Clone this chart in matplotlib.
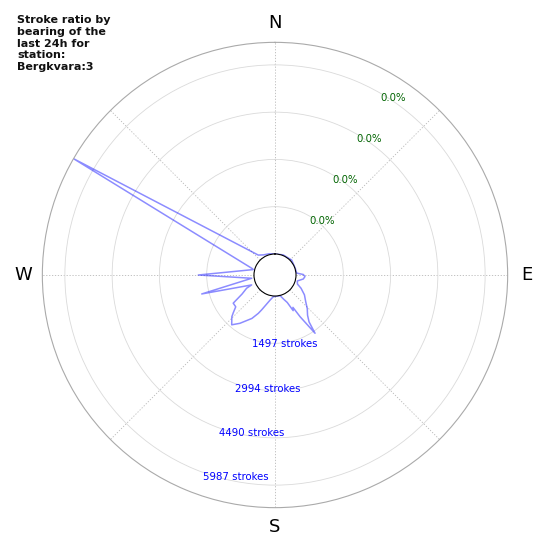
import numpy as np
import matplotlib
matplotlib.use("Agg")
import matplotlib.pyplot as plt

station = "Bergkvara:3"

# bearing (deg, clockwise from north) and stroke count
bearing = [0, 22, 48, 72, 85, 89, 93, 98, 105, 112, 117, 124, 131, 136, 141,
           144, 145.5, 149, 151, 153, 156, 160, 166, 175, 185, 191, 201, 203.5,
           208, 216, 221, 226, 228, 231, 236, 240, 245, 247, 255.5, 262, 270,
           284, 286, 300, 320, 330, 345]
strokes = [0, 22, 44, 10, 25, 231, 285, 240, 66, 101, 260, 459, 623, 804, 972,
           1168, 1573, 873, 506, 601, 285, 158, 10, 5, 30, 142, 519, 658,
           892, 1225, 1424, 1234, 1108, 934, 930, 538, 326, 139, 1731, 79, 1763,
           44, 95, 6700, 158, 70, 32]

r_max = 6700
stroke_ticks = [1497, 2994, 4490, 5987]
pct_labels = ["0.0%", "0.0%", "0.0%", "0.0%"]
compass = ["N", "", "E", "", "S", "", "W", ""]

theta = np.deg2rad(bearing + [bearing[0]])
r = strokes + [strokes[0]]

fig = plt.figure(figsize=(5.5, 5.5), dpi=100)
ax = fig.add_axes([0.077, 0.077, 0.846, 0.846], polar=True)
ax.set_theta_zero_location("N")
ax.set_theta_direction(-1)

ax.plot(theta, r, color="blue", alpha=0.45, lw=1.1)

ax.set_ylim(0, r_max)
ax.set_rorigin(-0.0993 * r_max)

ax.set_thetagrids(range(0, 360, 45), labels=compass)
ax.tick_params(axis="x", pad=3.5, labelsize=13)
ax.set_yticks(stroke_ticks)
ax.set_yticklabels([])
ax.xaxis.grid(True, color="#b8b8b8", linestyle=(0, (1.5, 2)), lw=0.6)
ax.yaxis.grid(True, color="#dadada", linestyle="-", lw=0.6)
ax.spines["polar"].set_color("#aaaaaa")
ax.spines["polar"].set_linewidth(0.8)
ax.spines["inner"].set_color("black")
ax.spines["inner"].set_linewidth(0.8)

for t in stroke_ticks:
    ax.text(np.deg2rad(200), t, "%d strokes" % t, color="blue", fontsize=7.3,
            ha="left", va="top")
for t, lab in zip(stroke_ticks, pct_labels):
    ax.text(np.deg2rad(30), t, lab, color="darkgreen", fontsize=7.3,
            ha="left", va="top")

fig.text(0.031, 0.972, "Stroke ratio by\nbearing of the\nlast 24h for\nstation:\n" + station,
         fontsize=8, fontweight="bold", ha="left", va="top", color="#111111")

fig.savefig("out.png", dpi=100)
